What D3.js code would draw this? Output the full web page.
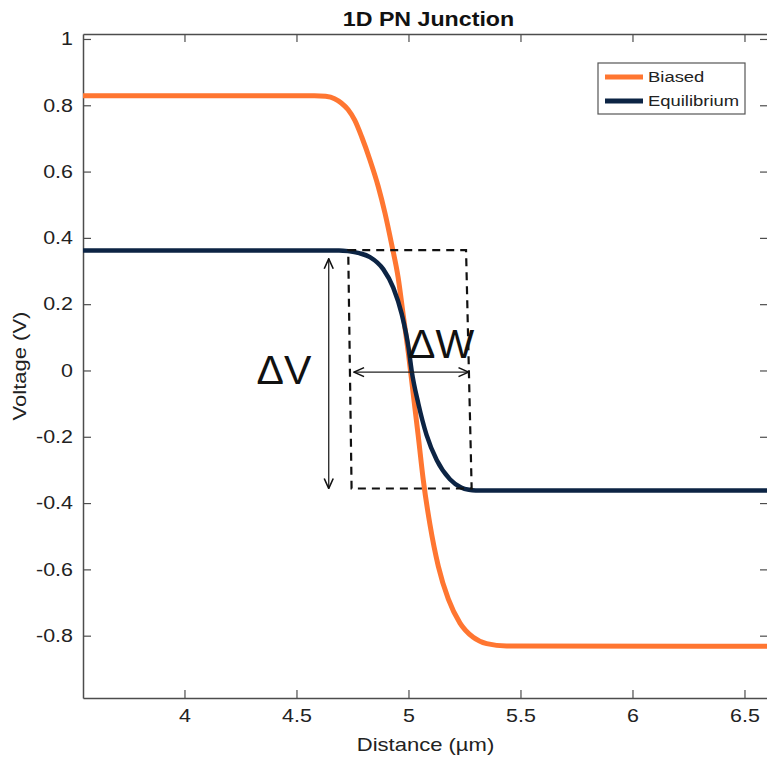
<!DOCTYPE html>
<html>
<head>
<meta charset="utf-8">
<script src="https://cdn.jsdelivr.net/npm/d3@7/dist/d3.min.js"></script>
<style>
  body { margin: 0; background: #fff; }
  svg { display: block; font-family: "Liberation Sans", Arial, Helvetica, sans-serif; }
</style>
</head>
<body>
<div id="viz"></div>
<script>
// values
const biasedX = [3.547, 4.58, 4.63, 4.67, 4.70, 4.73, 4.76, 4.791, 4.828, 4.865, 4.895, 4.925, 4.954, 4.977, 5.0, 5.022, 5.044, 5.066, 5.096, 5.133, 5.178, 5.23, 5.289, 5.349, 5.438, 6.605];
const biasedV = [0.829, 0.829, 0.827, 0.82, 0.807, 0.787, 0.755, 0.705, 0.635, 0.555, 0.475, 0.38, 0.28, 0.165, 0.05, -0.075, -0.2, -0.33, -0.465, -0.59, -0.69, -0.762, -0.805, -0.824, -0.831, -0.832];

const equilibriumX = [3.547, 4.69, 4.73, 4.78, 4.828, 4.888, 4.932, 4.97, 5.0, 5.014, 5.044, 5.081, 5.126, 5.185, 5.235, 5.27, 5.30, 6.605];
const equilibriumV = [0.362, 0.362, 0.36, 0.354, 0.342, 0.305, 0.25, 0.17, 0.07, 0.0, -0.1, -0.195, -0.27, -0.328, -0.353, -0.36, -0.362, -0.362];

const seriesNames = ["Biased", "Equilibrium"];
const seriesColors = ["#ff7631", "#0c2444"];

const xTicks = [4, 4.5, 5, 5.5, 6, 6.5];
const xTickLabels = ["4", "4.5", "5", "5.5", "6", "6.5"];
const yTicks = [-0.8, -0.6, -0.4, -0.2, 0, 0.2, 0.4, 0.6, 0.8, 1];
const yTickLabels = ["-0.8", "-0.6", "-0.4", "-0.2", "0", "0.2", "0.4", "0.6", "0.8", "1"];

// hand-drawn annotation: dashed box, two arrows, two labels (data units)
const boxX = [4.731, 5.257, 5.282, 4.746];
const boxV = [0.363, 0.363, -0.356, -0.356];
const dvArrowX = 4.644;
const dvArrowV = [0.337, -0.356];
const dwArrowX = [4.757, 5.268];
const dwArrowV = -0.005;
const dvLabel = { text: "\u0394V", x: 4.322, v: -0.041 };
const dwLabel = { text: "\u0394W", x: 4.998, v: 0.037 };

const STRETCH = 1.19;

const margin = {top: 34, right: -1, bottom: 62, left: 83};
const width = 767 - margin.left - margin.right;
const height = 760 - margin.top - margin.bottom;

const root = d3.select("#viz")
  .append("svg")
    .attr("width", 767)
    .attr("height", 760);

const svg = root.append("g")
    .attr("transform", `translate(${margin.left},${margin.top})`);

const x = d3.scaleLinear().domain([3.547, 6.605]).range([0, width]);
const y = d3.scaleLinear().domain([-0.988, 1.015]).range([height, 0]);

function styleAxis(g) {
  g.attr("font-family", null).attr("font-size", null);
  g.select(".domain").attr("stroke", "#4d4d4d").attr("stroke-width", 1.5);
  g.selectAll(".tick line").attr("stroke", "#4d4d4d").attr("stroke-width", 1.2);
  g.selectAll("text")
    .attr("fill", "#222")
    .style("font-size", "18px")
    .attr("transform", `scale(${STRETCH},1)`);
}

svg.append("g")
  .attr("transform", `translate(0,${height})`)
  .call(d3.axisBottom(x).tickValues(xTicks).tickFormat((d, i) => xTickLabels[i])
    .tickSizeInner(-8).tickSizeOuter(0).tickPadding(11))
  .call(styleAxis);

svg.append("g")
  .call(d3.axisLeft(y).tickValues(yTicks).tickFormat((d, i) => yTickLabels[i])
    .tickSizeInner(-8).tickSizeOuter(0).tickPadding(8.5))
  .call(styleAxis);

svg.append("g")
  .call(d3.axisTop(x).tickValues(xTicks).tickFormat("")
    .tickSizeInner(-8).tickSizeOuter(0))
  .call(styleAxis);

svg.append("g")
  .attr("transform", `translate(${width},0)`)
  .call(d3.axisRight(y).tickValues(yTicks).tickFormat("")
    .tickSizeInner(-8).tickSizeOuter(0))
  .call(styleAxis);

// curves
const line = d3.line()
  .x(d => x(d[0]))
  .y(d => y(d[1]))
  .curve(d3.curveMonotoneX);

const biased = biasedX.map((d, i) => [d, biasedV[i]]);
const equilibrium = equilibriumX.map((d, i) => [d, equilibriumV[i]]);

svg.append("path")
  .datum(biased)
  .attr("fill", "none")
  .attr("stroke", seriesColors[0])
  .attr("stroke-width", 5)
  .attr("d", line);

svg.append("path")
  .datum(equilibrium)
  .attr("fill", "none")
  .attr("stroke", seriesColors[1])
  .attr("stroke-width", 4.5)
  .attr("d", line);

// annotations
const defs = root.append("defs");
defs.append("marker")
  .attr("id", "head")
  .attr("viewBox", "0 0 12 12")
  .attr("refX", 11)
  .attr("refY", 6)
  .attr("markerWidth", 12)
  .attr("markerHeight", 12)
  .attr("markerUnits", "userSpaceOnUse")
  .attr("orient", "auto-start-reverse")
  .append("path")
    .attr("d", "M1,1.5 L11,6 L1,10.5")
    .attr("fill", "none")
    .attr("stroke", "#111")
    .attr("stroke-width", 1.6);

const boxPts = boxX.map((d, i) => [x(d), y(boxV[i])]);
svg.append("path")
  .attr("d", "M" + boxPts.map(p => p.join(",")).join("L") + "Z")
  .attr("fill", "none")
  .attr("stroke", "#111")
  .attr("stroke-width", 2.2)
  .attr("stroke-dasharray", "8,6");

svg.append("line")
  .attr("x1", x(dvArrowX)).attr("x2", x(dvArrowX))
  .attr("y1", y(dvArrowV[0])).attr("y2", y(dvArrowV[1]))
  .attr("stroke", "#222")
  .attr("stroke-width", 1.3)
  .attr("marker-start", "url(#head)")
  .attr("marker-end", "url(#head)");

svg.append("line")
  .attr("x1", x(dwArrowX[0])).attr("x2", x(dwArrowX[1]))
  .attr("y1", y(dwArrowV)).attr("y2", y(dwArrowV))
  .attr("stroke", "#222")
  .attr("stroke-width", 1.3)
  .attr("marker-start", "url(#head)")
  .attr("marker-end", "url(#head)");

[dvLabel, dwLabel].forEach(l => {
  svg.append("text")
    .attr("x", x(l.x))
    .attr("y", y(l.v))
    .style("font-size", "41px")
    .attr("fill", "#111")
    .text(l.text);
});

// legend
const legend = root.append("g")
  .attr("transform", "translate(598,63)");

legend.append("rect")
  .attr("width", 147)
  .attr("height", 51)
  .attr("fill", "#fff")
  .attr("stroke", "#555")
  .attr("stroke-width", 1.2);

seriesNames.forEach((name, i) => {
  const row = legend.append("g").attr("transform", `translate(0,${14 + i * 24})`);
  row.append("line")
    .attr("x1", 7).attr("x2", 45)
    .attr("stroke", seriesColors[i])
    .attr("stroke-width", 5);
  row.append("text")
    .attr("transform", `translate(50,0) scale(${STRETCH},1)`)
    .attr("dy", "0.35em")
    .style("font-size", "15.5px")
    .attr("fill", "#222")
    .text(name);
});

// title and axis labels
root.append("text")
  .attr("transform", `translate(${margin.left + width / 2 + 3},26) scale(${STRETCH},1)`)
  .attr("text-anchor", "middle")
  .style("font-size", "19.5px")
  .style("font-weight", "bold")
  .attr("fill", "#111")
  .text("1D PN Junction");

root.append("text")
  .attr("transform", `translate(${margin.left + width / 2},751) scale(${STRETCH},1)`)
  .attr("text-anchor", "middle")
  .style("font-size", "18.5px")
  .attr("fill", "#222")
  .text("Distance (\u00b5m)");

root.append("text")
  .attr("transform", `translate(26,${margin.top + height / 2}) rotate(-90) scale(${STRETCH},1)`)
  .attr("text-anchor", "middle")
  .style("font-size", "18.5px")
  .attr("fill", "#222")
  .text("Voltage (V)");
</script>
</body>
</html>
